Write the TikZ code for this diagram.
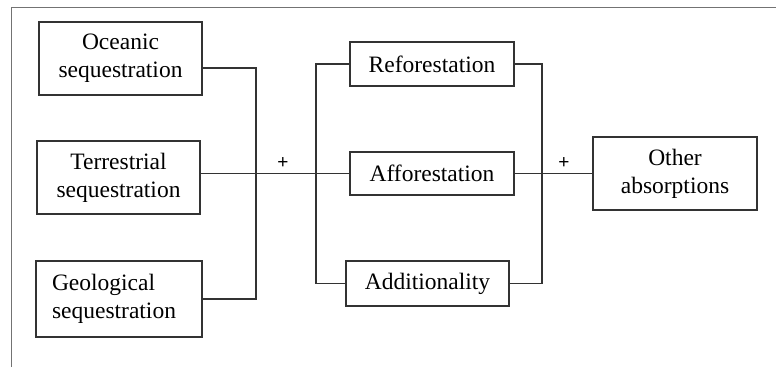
\documentclass[tikz,border=0pt]{standalone}
\usepackage{fontspec}
\setmainfont{Liberation Serif}
\newfontfamily\plusfont{Liberation Sans}
\begin{document}
\begin{tikzpicture}[x=1pt,y=-1pt,
  box/.style={draw=black!80,line width=1.5pt,inner sep=0pt,align=center,
    font=\fontsize{23.5}{28}\selectfont},
  conn/.style={draw=black!80,line width=1.4pt},
  plus/.style={font=\plusfont\fontsize{19}{19}\selectfont,inner sep=0pt}]
\useasboundingbox (0,0) rectangle (776,367);
\draw[black!55,line width=0.9pt] (11,367) -- (11,7) -- (776,7);
% left column
\node[box,minimum width=163,minimum height=73] (oce) at (120.5,58.5) {Oceanic\\sequestration};
\node[box,minimum width=163,minimum height=73] (ter) at (118.5,177.5) {Terrestrial\\sequestration};
\node[box,minimum width=166,minimum height=76,text width=134,inner xsep=16,align=left] (geo) at (119,299) {Geological\\sequestration};
% middle column
\node[box,minimum width=164,minimum height=44] (ref) at (432,64) {Reforestation};
\node[box,minimum width=164,minimum height=43] (aff) at (432,173.5) {Afforestation};
\node[box,minimum width=163,minimum height=45] (add) at (427.5,283.5) {Additionality};
% right
\node[box,minimum width=164,minimum height=73] (oth) at (675,173.5) {Other\\absorptions};
% bus coordinates
\coordinate (j1) at (256,68);
\coordinate (j2) at (256,299);
\coordinate (k) at (316,0);
\coordinate (m) at (542,0);
\draw[conn] (oce.east |- j1) -- (j1) -- (j2) -- (geo.east);
\draw[conn] (ter.east |- aff.west) -- (aff.west);
\draw[conn] (ref.west) -- (ref.west -| k) -- (add.west -| k) -- (add.west);
\draw[conn] (ref.east) -- (ref.east -| m) -- (add.east -| m) -- (add.east);
\draw[conn] (aff.east) -- (oth.west);
\node[plus] (p1) at (283,163) {+};
\node[plus] (p2) at (564,163) {+};
\end{tikzpicture}
\end{document}
